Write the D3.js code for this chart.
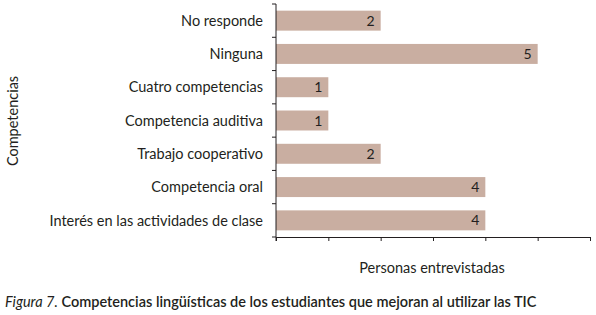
<!DOCTYPE html>
<html>
<head>
<meta charset="utf-8">
<script src="https://cdn.jsdelivr.net/npm/d3@7"></script>
<style>
  body { margin: 0; background: #fff; }
  text { font-family: Lato, "Open Sans", sans-serif; fill: #231f20; }
</style>
</head>
<body>
<div id="chart"></div>
<script>
const categories = ["No responde", "Ninguna", "Cuatro competencias", "Competencia auditiva",
    "Trabajo cooperativo", "Competencia oral", "Interés en las actividades de clase"];
const values = [2, 5, 1, 1, 2, 4, 4];
const xTicks = [0, 1, 2, 3, 4, 5, 6];

const W = 596, H = 315;
const margin = {left: 276, top: 4, right: 6, bottom: 78};
const width = W - margin.left - margin.right;
const height = H - margin.top - margin.bottom;

const svg = d3.select("#chart")
    .append("svg")
    .attr("width", W)
    .attr("height", H);

const g = svg.append("g")
    .attr("transform", "translate(" + margin.left + "," + margin.top + ")");

const x = d3.scaleLinear()
    .domain([0, 6])
    .range([0, width]);

const y = d3.scaleBand()
    .domain(categories)
    .range([0, height])
    .paddingInner(0.4)
    .paddingOuter(0.2);

// bars
g.selectAll(".bar")
    .data(values)
    .enter().append("rect")
    .attr("class", "bar")
    .attr("x", x(0))
    .attr("y", (d, i) => y(categories[i]))
    .attr("width", d => x(d) - x(0))
    .attr("height", y.bandwidth())
    .attr("fill", "#c9aea1");

// value labels
g.selectAll(".val")
    .data(values)
    .enter().append("text")
    .attr("class", "val")
    .attr("x", d => x(d) - 6)
    .attr("y", (d, i) => y(categories[i]) + y.bandwidth() / 2)
    .attr("dy", "0.36em")
    .attr("text-anchor", "end")
    .style("font-size", "14px")
    .text(d => d);

// x axis
const xAxis = g.append("g")
    .attr("transform", "translate(0," + height + ")")
    .call(d3.axisBottom(x).tickValues(xTicks).tickSize(4).tickSizeOuter(0).tickFormat(""));
xAxis.select(".domain").attr("stroke", "#231f20");
xAxis.selectAll(".tick line").attr("stroke", "#231f20");

// y axis: ticks on band edges
const edges = categories.map(c => y(c) - y.step() * y.paddingInner() / 2).concat([height]);
g.append("line")
    .attr("x1", 0).attr("x2", 0)
    .attr("y1", 0).attr("y2", height + 4)
    .attr("stroke", "#231f20");
g.selectAll(".ytick")
    .data(edges)
    .enter().append("line")
    .attr("x1", -4).attr("x2", 0)
    .attr("y1", d => d).attr("y2", d => d)
    .attr("stroke", "#231f20");

// category labels
g.selectAll(".cat")
    .data(categories)
    .enter().append("text")
    .attr("x", -13)
    .attr("y", d => y(d) + y.bandwidth() / 2)
    .attr("dy", "0.36em")
    .attr("text-anchor", "end")
    .style("font-size", "14.5px")
    .text(d => d);

// axis titles
svg.append("text")
    .attr("transform", "translate(18,121) rotate(-90)")
    .attr("text-anchor", "middle")
    .style("font-size", "14.5px")
    .text("Competencias");

svg.append("text")
    .attr("x", margin.left + x(3) - 1)
    .attr("y", 273)
    .attr("text-anchor", "middle")
    .style("font-size", "14.5px")
    .text("Personas entrevistadas");

// caption
const cap = svg.append("text")
    .attr("x", 5)
    .attr("y", 307)
    .style("font-size", "14.5px")
    .style("font-weight", "600");
cap.append("tspan").style("font-style", "italic").style("font-weight", "400").text("Figura 7.");
cap.append("tspan").text(" Competencias lingüísticas de los estudiantes que mejoran al utilizar las TIC");
</script>
</body>
</html>
